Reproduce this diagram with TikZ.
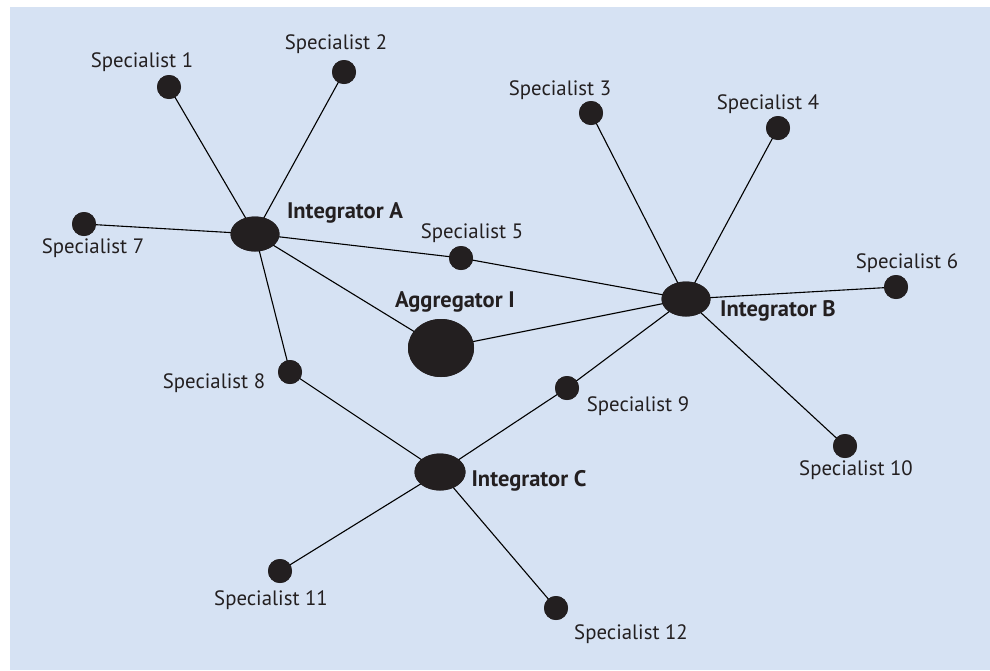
\documentclass[tikz,border=0pt]{standalone}
\usepackage{fontspec}
\setmainfont{PT Sans}
\usetikzlibrary{shapes.geometric}
\begin{document}
\begin{tikzpicture}[x=1pt,y=-1pt,
  edge/.style={draw=black,line width=1.1pt},
  spec/.style={circle,fill=dotc,inner sep=0pt,minimum size=24pt},
  integ/.style={ellipse,fill=dotc,inner sep=0pt,minimum width=49pt,minimum height=35pt},
  lab/.style={text=txtc,font=\fontsize{20.8}{24}\selectfont,inner sep=0pt},
  blab/.style={text=txtc,font=\fontsize{22.5}{25}\selectfont\bfseries,inner sep=0pt}]
\definecolor{bgc}{RGB}{214,226,243}
\definecolor{dotc}{RGB}{35,31,32}
\definecolor{txtc}{RGB}{35,31,32}
\useasboundingbox (0,0) rectangle (990,670);
\fill[white] (0,0) rectangle (990,670);
\fill[bgc] (10,7) rectangle (990,670);
% nodes
\node[spec] (s1) at (169,87) {};
\node[spec] (s2) at (344,72) {};
\node[spec] (s3) at (591,113) {};
\node[spec] (s4) at (778,128) {};
\node[spec] (s5) at (461,258) {};
\node[spec] (s6) at (896,287) {};
\node[spec] (s7) at (84,224) {};
\node[spec] (s8) at (290,372) {};
\node[spec] (s9) at (567,388) {};
\node[spec] (s10) at (845,446) {};
\node[spec] (s11) at (280,571) {};
\node[spec] (s12) at (556,608) {};
\node[integ] (ia) at (255,234) {};
\node[integ] (ib) at (686,299) {};
\node[integ,minimum width=51pt,minimum height=37pt] (ic) at (440,472) {};
\node[ellipse,fill=dotc,inner sep=0pt,minimum width=66pt,minimum height=58pt] (ag) at (441,348) {};
% edges
\draw[edge] (ia.center) -- (s1.center);
\draw[edge] (ia.center) -- (s2.center);
\draw[edge] (ia.center) -- (s7.center);
\draw[edge] (ia.center) -- (s5.center);
\draw[edge] (ia.center) -- (ag.center);
\draw[edge] (ia.center) -- (s8.center);
\draw[edge] (ib.center) -- (s3.center);
\draw[edge] (ib.center) -- (s4.center);
\draw[edge] (ib.center) -- (s6.center);
\draw[edge] (ib.center) -- (s10.center);
\draw[edge] (ib.center) -- (ag.center);
\draw[edge] (ib.center) -- (s9.center);
\draw[edge] (ib.center) -- (s5.center);
\draw[edge] (ic.center) -- (s8.center);
\draw[edge] (ic.center) -- (s9.center);
\draw[edge] (ic.center) -- (s11.center);
\draw[edge] (ic.center) -- (s12.center);
% redraw node shapes on top of the edges
\foreach \n in {s1,s2,s3,s4,s5,s6,s7,s8,s9,s10,s11,s12}
  \fill[dotc] (\n.center) circle (12pt);
\fill[dotc] (ia.center) ellipse (24.5pt and 17.5pt);
\fill[dotc] (ib.center) ellipse (24.5pt and 17.5pt);
\fill[dotc] (ic.center) ellipse (25.5pt and 18.5pt);
\fill[dotc] (ag.center) ellipse (33pt and 29pt);
% labels
\node[lab] (l1) at (142,62) {Specialist 1};
\node[lab] (l2) at (336,44) {Specialist 2};
\node[lab] (l3) at (560,90) {Specialist 3};
\node[lab] (l4) at (768,104) {Specialist 4};
\node[lab] (l5) at (472,233) {Specialist 5};
\node[lab] (l6) at (907,263) {Specialist 6};
\node[lab] (l7) at (93,248) {Specialist 7};
\node[lab] (l8) at (214,383) {Specialist 8};
\node[lab] (l9) at (638,406) {Specialist 9};
\node[lab] (l10) at (856,470) {Specialist 10};
\node[lab] (l11) at (271,600) {Specialist 11};
\node[lab] (l12) at (631,634) {Specialist 12};
\node[blab] (la) at (345,213) {Integrator A};
\node[blab] (lb) at (778,311) {Integrator B};
\node[blab] (lc) at (529,481) {Integrator C};
\node[blab] (lg) at (455,302) {Aggregator I};
\end{tikzpicture}
\end{document}
